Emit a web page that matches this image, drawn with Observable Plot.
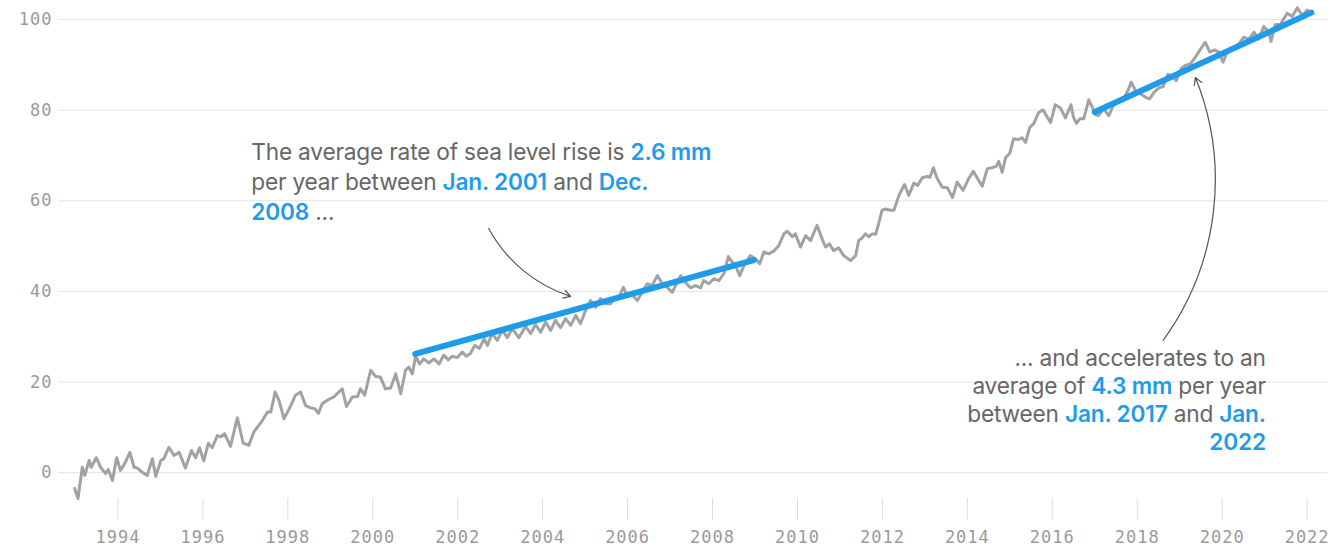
<!DOCTYPE html>
<html>
<head>
<meta charset="utf-8">
<script src="https://cdn.jsdelivr.net/npm/d3@7"></script>
<script src="https://cdn.jsdelivr.net/npm/@observablehq/plot@0.6"></script>
<style>
  html, body { margin: 0; padding: 0; background: #ffffff; }
  #chart svg { display: block; }
</style>
</head>
<body>
<div id="chart"></div>
<script>
// Global mean sea level change (mm), satellite altimetry, decimal years
const years = [
  1992.98, 1993.06, 1993.16, 1993.22, 1993.32, 1993.37, 1993.49, 1993.59, 1993.71, 1993.77,
  1993.87, 1993.97, 1994.06, 1994.16, 1994.28, 1994.38, 1994.46, 1994.57, 1994.69, 1994.81,
  1994.89, 1995.01, 1995.08, 1995.20, 1995.32, 1995.44, 1995.59, 1995.73, 1995.83, 1995.92,
  1996.02, 1996.13, 1996.22, 1996.34, 1996.42, 1996.51, 1996.65, 1996.81, 1996.95, 1997.08,
  1997.20, 1997.40, 1997.52, 1997.60, 1997.70, 1997.79, 1997.91, 1998.07, 1998.18, 1998.30,
  1998.42, 1998.54, 1998.64, 1998.72, 1998.81, 1998.93, 1999.08, 1999.28, 1999.38, 1999.52,
  1999.64, 1999.71, 1999.81, 1999.95, 2000.07, 2000.18, 2000.30, 2000.42, 2000.54, 2000.66,
  2000.77, 2000.85, 2000.93, 2001.01, 2001.10, 2001.20, 2001.32, 2001.44, 2001.56, 2001.67,
  2001.78, 2001.87, 2001.99, 2002.11, 2002.20, 2002.30, 2002.40, 2002.51, 2002.62, 2002.70,
  2002.81, 2002.93, 2003.05, 2003.17, 2003.28, 2003.44, 2003.60, 2003.72, 2003.83, 2003.95,
  2004.07, 2004.19, 2004.30, 2004.42, 2004.54, 2004.66, 2004.78, 2004.89, 2005.01, 2005.13,
  2005.25, 2005.36, 2005.48, 2005.60, 2005.68, 2005.79, 2005.90, 2005.99, 2006.10, 2006.23,
  2006.34, 2006.46, 2006.58, 2006.70, 2006.82, 2006.93, 2007.05, 2007.17, 2007.25, 2007.36,
  2007.48, 2007.60, 2007.72, 2007.79, 2007.91, 2008.03, 2008.15, 2008.27, 2008.37, 2008.46,
  2008.55, 2008.64, 2008.74, 2008.89, 2009.01, 2009.11, 2009.21, 2009.32, 2009.44, 2009.56,
  2009.68, 2009.76, 2009.88, 2009.95, 2010.07, 2010.19, 2010.31, 2010.46, 2010.58, 2010.66,
  2010.75, 2010.85, 2010.97, 2011.09, 2011.25, 2011.37, 2011.44, 2011.52, 2011.60, 2011.68,
  2011.76, 2011.84, 2011.91, 2011.99, 2012.07, 2012.19, 2012.27, 2012.39, 2012.52, 2012.62,
  2012.74, 2012.83, 2012.94, 2013.05, 2013.12, 2013.20, 2013.29, 2013.41, 2013.53, 2013.65,
  2013.76, 2013.90, 2014.03, 2014.14, 2014.24, 2014.35, 2014.47, 2014.58, 2014.68, 2014.74,
  2014.82, 2014.90, 2015.00, 2015.09, 2015.19, 2015.29, 2015.37, 2015.47, 2015.56, 2015.68,
  2015.78, 2015.86, 2015.96, 2016.07, 2016.19, 2016.31, 2016.44, 2016.50, 2016.57, 2016.65,
  2016.74, 2016.86, 2016.94, 2017.02, 2017.09, 2017.21, 2017.33, 2017.45, 2017.56, 2017.68,
  2017.78, 2017.86, 2017.96, 2018.08, 2018.19, 2018.29, 2018.40, 2018.51, 2018.61, 2018.72,
  2018.82, 2018.92, 2019.03, 2019.13, 2019.25, 2019.37, 2019.47, 2019.60, 2019.71, 2019.82,
  2019.92, 2020.02, 2020.13, 2020.26, 2020.39, 2020.51, 2020.63, 2020.75, 2020.86, 2020.98,
  2021.10, 2021.15, 2021.25, 2021.37, 2021.53, 2021.65, 2021.77, 2021.89, 2022.00, 2022.10
];
const levels = [
  -3.5, -5.7, 1.2, -0.6, 2.7, 1.2, 3.3, 1.2, -0.2, 0.7,
  -1.7, 3.3, 0.5, 2.0, 4.5, 1.2, 1.0, 0.1, -0.6, 3.1,
  -0.8, 2.7, 3.1, 5.6, 3.8, 4.5, 1.0, 4.9, 3.3, 5.5,
  2.6, 6.5, 5.5, 8.2, 7.9, 8.6, 5.8, 12.1, 6.5, 6.0,
  9.0, 11.5, 13.4, 13.4, 17.8, 16.0, 11.9, 14.8, 17.1, 17.8,
  14.8, 14.3, 14.1, 13.1, 15.2, 16.0, 16.7, 18.5, 14.6, 16.7,
  16.8, 18.5, 17.1, 22.6, 21.2, 21.1, 18.5, 18.7, 21.8, 17.4,
  22.6, 23.3, 21.8, 25.7, 24.0, 25.1, 24.2, 25.1, 24.0, 25.9,
  24.9, 25.7, 25.4, 26.6, 25.7, 26.3, 28.1, 27.4, 29.6, 28.1,
  30.7, 29.2, 31.4, 29.8, 31.8, 29.8, 32.3, 30.7, 32.7, 31.0,
  33.2, 31.4, 33.6, 32.0, 34.0, 32.5, 34.7, 32.9, 35.8, 38.0,
  36.5, 38.4, 37.3, 37.3, 38.4, 38.7, 40.9, 39.1, 39.4, 38.0,
  39.8, 41.7, 41.3, 43.5, 41.7, 40.9, 39.8, 42.0, 43.5, 42.0,
  40.8, 41.3, 40.8, 42.4, 41.7, 42.8, 42.4, 44.0, 47.7, 46.5,
  45.5, 43.5, 45.7, 47.9, 47.2, 46.1, 48.7, 48.3, 48.9, 50.1,
  52.7, 53.3, 52.1, 52.7, 49.8, 52.3, 51.2, 54.6, 51.6, 49.8,
  50.5, 49.0, 49.6, 47.9, 46.8, 47.9, 51.2, 51.8, 52.7, 52.1,
  52.7, 52.6, 54.9, 57.9, 58.2, 57.9, 57.9, 61.2, 63.6, 61.2,
  63.9, 63.4, 65.1, 65.4, 65.2, 67.3, 64.9, 63.0, 62.9, 60.7,
  64.1, 62.3, 64.9, 66.5, 64.9, 63.2, 67.1, 67.3, 67.6, 68.7,
  66.3, 69.5, 70.5, 73.7, 73.5, 73.9, 72.9, 76.2, 77.0, 79.5,
  80.1, 78.8, 77.3, 81.2, 80.5, 78.3, 81.2, 78.4, 77.1, 78.1,
  78.1, 82.3, 80.7, 79.0, 78.8, 80.3, 78.8, 81.4, 82.1, 82.5,
  84.3, 86.2, 84.3, 83.6, 82.9, 82.5, 84.0, 84.9, 85.2, 87.9,
  87.6, 86.5, 89.1, 89.9, 90.2, 91.7, 93.2, 95.0, 92.8, 93.3,
  92.8, 90.6, 93.2, 93.5, 94.6, 96.1, 95.7, 97.2, 95.7, 98.5,
  97.2, 95.2, 98.9, 98.9, 101.4, 100.7, 102.6, 100.9, 102.1, 101.6
];

// Trend segments: start/end dates, level at start, and stated rate (mm/yr)
const trendStarts = [2001.0, 2017.0];
const trendEnds = [2008.97, 2022.1];
const trendStartLevels = [26.2, 79.6];
const trendRates = [2.6, 4.3];

// Axis ticks
const xTicks = [1994, 1996, 1998, 2000, 2002, 2004, 2006, 2008, 2010, 2012, 2014, 2016, 2018, 2020, 2022];
const yTicks = [0, 20, 40, 60, 80, 100];

// Annotation text: each line is a list of [text, highlighted]
const note1Lines = [
  [["The average rate of sea level rise is ", false], ["2.6 mm", true]],
  [["per year between ", false], ["Jan. 2001", true], [" and ", false], ["Dec.", true]],
  [["2008", true], [" ...", false]]
];
const note2Lines = [
  [["... and accelerates to an", false]],
  [["average of ", false], ["4.3 mm", true], [" per year", false]],
  [["between ", false], ["Jan. 2017", true], [" and ", false], ["Jan.", true]],
  [["2022", true]]
];

const series = years.map((t, i) => ({t, v: levels[i]}));
const trends = trendStarts.flatMap((t0, i) => {
  const t1 = trendEnds[i];
  const v0 = trendStartLevels[i];
  return [
    {seg: i, t: t0, v: v0},
    {seg: i, t: t1, v: v0 + trendRates[i] * (t1 - t0)}
  ];
});

const blue = "#1f9bec";
const gray = "#a2a2a2";

const chart = Plot.plot({
  width: 1337,
  height: 546,
  marginLeft: 58,
  marginRight: 10,
  marginTop: 10,
  marginBottom: 48,
  style: {fontFamily: "'DejaVu Sans Mono', monospace", fontSize: "17px", background: "#ffffff", letterSpacing: "1px"},
  x: {domain: [1992.6, 2022.48]},
  y: {domain: [-5.7, 102]},
  marks: [
    Plot.gridY(yTicks, {stroke: "#e4e4e4", strokeOpacity: 1}),
    Plot.axisY(yTicks, {tickSize: 0, tickPadding: 6, fill: "#9a9a9a", label: null}),
    Plot.axisX(xTicks, {tickSize: 22, tickPadding: 10, stroke: "#dddddd", fill: "#9a9a9a", tickFormat: d => String(d), label: null}),
    Plot.line(series, {x: "t", y: "v", stroke: gray, strokeWidth: 3, strokeLinejoin: "round"}),
    Plot.line(trends, {x: "t", y: "v", z: "seg", stroke: blue, strokeWidth: 6, strokeLinecap: "round"}),
    Plot.arrow([{x1: 2002.73, y1: 53.9, x2: 2004.66, y2: 38.9}], {
      x1: "x1", y1: "y1", x2: "x2", y2: "y2", bend: -22, stroke: "#555", strokeWidth: 1.2, headLength: 10
    }),
    Plot.arrow([{x1: 2018.61, y1: 29.2, x2: 2019.37, y2: 87.2}], {
      x1: "x1", y1: "y1", x2: "x2", y2: "y2", bend: -29, stroke: "#555", strokeWidth: 1.2, headLength: 10
    })
  ]
});

document.getElementById("chart").appendChild(chart);

// Annotations with highlighted phrases, placed through the chart's scales
const xs = chart.scale("x");
const ys = chart.scale("y");
const svg = d3.select(chart);

function drawNote(lines, t, v, anchor, lineHeight) {
  const g = svg.append("g")
    .attr("font-family", "Inter, 'Noto Sans', sans-serif")
    .attr("font-size", 22.7)
    .style("letter-spacing", "-0.2px");
  const x0 = xs.apply(t);
  const y0 = ys.apply(v);
  lines.forEach((segments, i) => {
    const text = g.append("text")
      .attr("x", x0)
      .attr("y", y0 + i * lineHeight)
      .attr("text-anchor", anchor)
      .style("white-space", "pre");
    segments.forEach(([s, hi]) => {
      text.append("tspan")
        .attr("fill", hi ? blue : "#666666")
        .attr("font-weight", hi ? 600 : 400)
        .text(s);
    });
  });
}

drawNote(note1Lines, 1997.15, 69.0, "start", 30);
drawNote(note2Lines, 2021.04, 23.4, "end", 28);
</script>
</body>
</html>
